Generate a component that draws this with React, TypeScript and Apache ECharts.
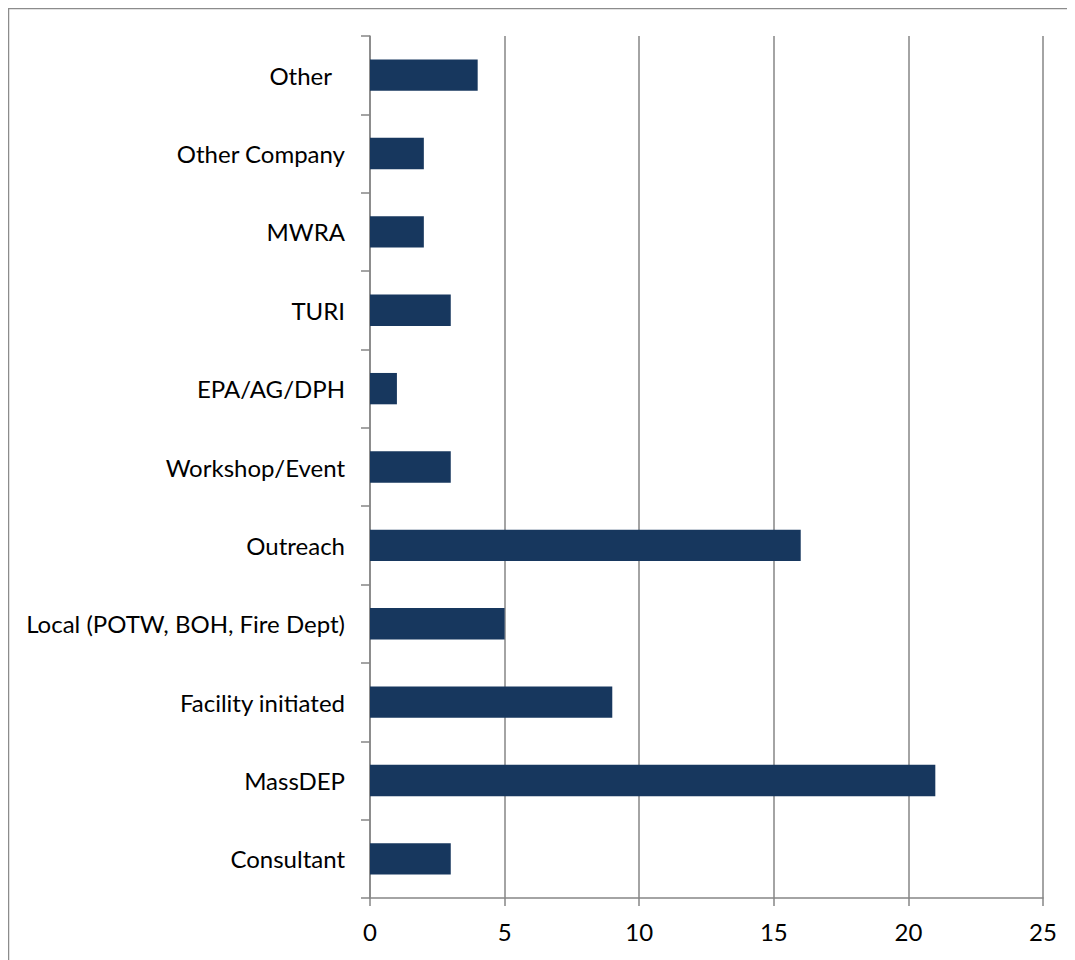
import React, { useEffect, useRef } from "react";
import * as echarts from "echarts";

const categories = [
  "Consultant",
  "MassDEP",
  "Facility initiated",
  "Local (POTW, BOH, Fire Dept)",
  "Outreach",
  "Workshop/Event",
  "EPA/AG/DPH",
  "TURI",
  "MWRA",
  "Other Company",
  "Other",
];
const values = [3, 21, 9, 5, 16, 3, 1, 3, 2, 2, 4];
const xTicks = { min: 0, max: 25, interval: 5 };

export default function App() {
  const ref = useRef<HTMLDivElement>(null);
  useEffect(() => {
    if (!ref.current) return;
    const chart = echarts.init(ref.current, null, { renderer: "svg" });
    const font = "Lato, 'Open Sans', sans-serif";
    chart.setOption({
      animation: false,
      backgroundColor: "#ffffff",
      textStyle: { fontFamily: font },
      graphic: [
        {
          type: "rect",
          shape: { x: 0.5, y: 0.5, width: 2000, height: 2000 },
          style: { fill: "none", stroke: "#8c8c8c", lineWidth: 1.5 },
          silent: true,
        },
      ],
      grid: { left: 362, top: 28, right: 32, bottom: 62, containLabel: false },
      xAxis: {
        type: "value",
        min: xTicks.min,
        max: xTicks.max,
        interval: xTicks.interval,
        axisLine: { show: true, lineStyle: { color: "#868686", width: 1.5 } },
        axisTick: { show: true, length: 8, lineStyle: { color: "#868686", width: 1.5 } },
        splitLine: { show: true, lineStyle: { color: "#868686", width: 1.5 } },
        axisLabel: { color: "#000", fontSize: 24, fontFamily: font, margin: 21 },
      },
      yAxis: {
        type: "category",
        data: categories,
        axisLine: { show: true, lineStyle: { color: "#868686", width: 1.5 } },
        axisTick: { show: true, length: 9, alignWithLabel: false, lineStyle: { color: "#868686", width: 1.5 } },
        axisLabel: {
          color: "#000",
          fontSize: 24,
          fontFamily: font,
          margin: 25,
          formatter: (v: string) => (v === "Other" ? "{o|Other}" : v),
          rich: { o: { fontSize: 24, fontFamily: font, color: "#000", padding: [0, 13, 0, 0] } },
        },
      },
      series: [
        {
          type: "bar",
          data: values,
          barCategoryGap: "60%",
          itemStyle: { color: "#17375E" },
        },
      ],
    });
    return () => chart.dispose();
  }, []);
  return <div ref={ref} style={{ width: 1067, height: 952 }} />;
}
